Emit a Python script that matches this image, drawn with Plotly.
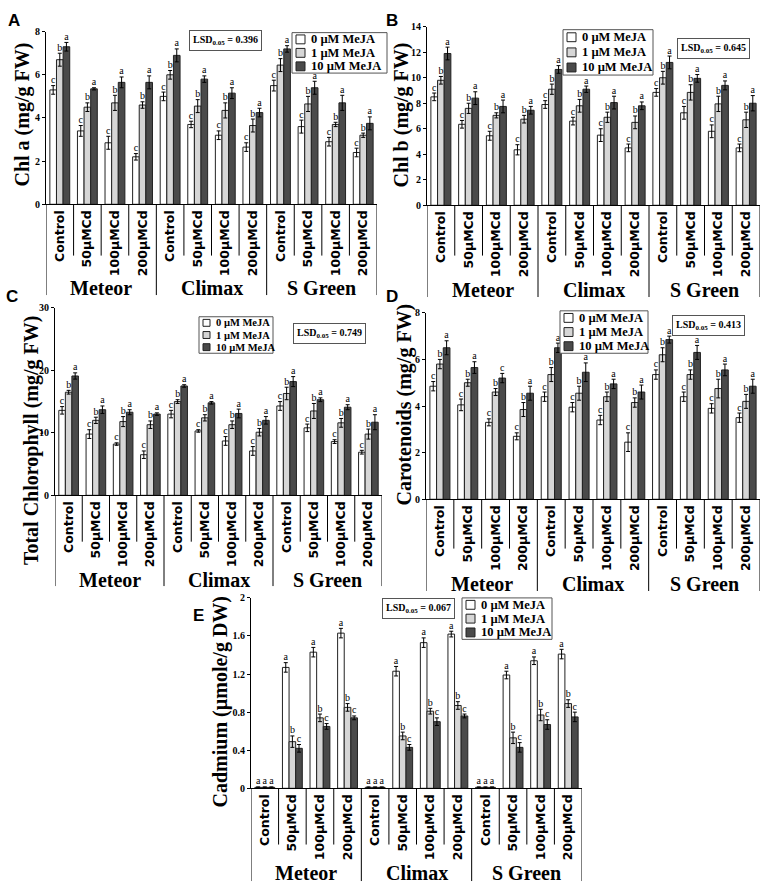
import plotly.graph_objects as go

W, H = 767, 890
SERIF = "Liberation Serif, Times New Roman, serif"
SANS = "Liberation Sans, Arial, sans-serif"
TICKSANS = "DejaVu Sans, Verdana, sans-serif"

GROUPS = ["Meteor", "Climax", "S Green"]
TREATMENTS = ["Control", "50µMCd", "100µMCd", "200µMCd"]
SERIES = ["0 µM MeJA", "1 µM MeJA", "10 µM MeJA"]
CATS = list(range(12))

# ---- Panel A: Chl a (mg/g FW)
chla_0 = [5.3, 3.4, 2.85, 2.2, 5.0, 3.7, 3.2, 2.65, 5.5, 3.6, 2.9, 2.4]
chla_1 = [6.7, 4.5, 4.7, 4.6, 6.0, 4.55, 4.35, 3.65, 6.45, 4.65, 3.7, 3.2]
chla_10 = [7.3, 5.35, 5.65, 5.65, 6.9, 5.8, 5.15, 4.25, 7.2, 5.4, 4.7, 3.75]
chla_err_0 = [0.2, 0.25, 0.3, 0.15, 0.2, 0.15, 0.2, 0.2, 0.25, 0.3, 0.2, 0.2]
chla_err_1 = [0.3, 0.2, 0.35, 0.15, 0.2, 0.3, 0.35, 0.3, 0.3, 0.35, 0.1, 0.1]
chla_err_10 = [0.2, 0.05, 0.25, 0.3, 0.3, 0.15, 0.25, 0.2, 0.15, 0.3, 0.35, 0.3]

# ---- Panel B: Chl b (mg/g FW)
chlb_0 = [8.5, 6.35, 5.45, 4.35, 7.9, 6.6, 5.5, 4.5, 8.85, 7.25, 5.8, 4.5]
chlb_1 = [9.8, 7.6, 7.05, 6.75, 9.1, 7.8, 6.9, 6.5, 10.0, 8.85, 7.95, 6.7]
chlb_10 = [11.9, 8.4, 7.75, 7.45, 10.65, 9.1, 8.05, 7.8, 11.2, 9.95, 9.4, 8.0]
chlb_err_0 = [0.3, 0.3, 0.35, 0.4, 0.3, 0.3, 0.5, 0.3, 0.3, 0.5, 0.5, 0.3]
chlb_err_1 = [0.3, 0.4, 0.2, 0.3, 0.4, 0.5, 0.4, 0.5, 0.5, 0.6, 0.6, 0.6]
chlb_err_10 = [0.5, 0.5, 0.5, 0.3, 0.3, 0.25, 0.5, 0.3, 0.5, 0.3, 0.35, 0.6]

# ---- Panel C: Total Chlorophyll (mg/g FW)
tot_0 = [13.6, 9.8, 8.2, 6.5, 13.0, 10.3, 8.7, 7.1, 14.3, 10.8, 8.6, 6.9]
tot_1 = [16.5, 12.0, 11.8, 11.3, 15.0, 12.4, 11.3, 10.1, 16.3, 13.5, 11.6, 9.8]
tot_10 = [19.1, 13.7, 13.3, 13.0, 17.5, 14.8, 13.1, 12.0, 18.2, 15.3, 14.1, 11.7]
tot_err_0 = [0.6, 0.7, 0.2, 0.6, 0.6, 0.2, 0.7, 0.7, 0.7, 0.6, 0.3, 0.3]
tot_err_1 = [0.3, 0.5, 0.8, 0.6, 0.3, 0.5, 0.6, 0.6, 1.0, 1.2, 0.7, 0.8]
tot_err_10 = [0.5, 0.6, 0.4, 0.2, 0.2, 0.2, 0.7, 0.6, 0.8, 0.3, 0.4, 1.2]

# ---- Panel D: Carotenoids (mg/g FW)
car_0 = [4.85, 4.05, 3.3, 2.7, 4.4, 3.95, 3.4, 2.45, 5.35, 4.4, 3.9, 3.5]
car_1 = [5.8, 5.0, 4.6, 3.85, 5.35, 4.55, 4.4, 4.15, 6.2, 5.35, 4.75, 4.2]
car_10 = [6.5, 5.65, 5.2, 4.55, 6.5, 5.45, 4.95, 4.6, 6.85, 6.3, 5.55, 4.85]
car_err_0 = [0.2, 0.25, 0.15, 0.15, 0.2, 0.2, 0.2, 0.4, 0.2, 0.2, 0.2, 0.2]
car_err_1 = [0.2, 0.15, 0.15, 0.3, 0.3, 0.3, 0.2, 0.2, 0.3, 0.2, 0.4, 0.3]
car_err_10 = [0.3, 0.25, 0.2, 0.3, 0.2, 0.4, 0.2, 0.3, 0.15, 0.3, 0.25, 0.3]

# ---- Panel E: Cadmium (µmole/g DW)
cd_0 = [0.01, 1.27, 1.43, 1.63, 0.01, 1.23, 1.53, 1.62, 0.01, 1.19, 1.34, 1.41]
cd_1 = [0.01, 0.49, 0.74, 0.85, 0.01, 0.55, 0.81, 0.87, 0.01, 0.53, 0.77, 0.89]
cd_10 = [0.01, 0.42, 0.65, 0.74, 0.01, 0.43, 0.70, 0.76, 0.01, 0.43, 0.67, 0.75]
cd_err_0 = [0.005, 0.05, 0.05, 0.05, 0.005, 0.05, 0.05, 0.03, 0.005, 0.04, 0.04, 0.05]
cd_err_1 = [0.005, 0.06, 0.04, 0.04, 0.005, 0.04, 0.03, 0.04, 0.005, 0.06, 0.06, 0.04]
cd_err_10 = [0.005, 0.04, 0.03, 0.02, 0.005, 0.03, 0.04, 0.02, 0.005, 0.05, 0.05, 0.05]

# significance letters
LET_0 = ["c"] * 12
LET_1 = ["b"] * 12
LET_10 = ["a"] * 12
LET_D_10 = ["a", "a", "c", "a", "a", "a", "a", "a", "a", "a", "a", "a"]
LET_E_0 = ["a"] * 12
LET_E_1 = ["a", "b", "b", "b", "a", "b", "b", "b", "a", "b", "b", "b"]
LET_E_10 = ["a", "c", "c", "c", "a", "c", "c", "c", "a", "c", "c", "c"]

LSD_VALUES = ["0.396", "0.645", "0.749", "0.413", "0.067"]

COLORS = ["#ffffff", "#d6d6d6", "#4a4a4a"]
BARGAP = 0.28
BW = (1 - BARGAP) / 3

panels = [
    dict(label="A", title="Chl a (mg/g FW)", vals=[chla_0, chla_1, chla_10],
         errs=[chla_err_0, chla_err_1, chla_err_10], lets=[LET_0, LET_1, LET_10],
         yr=[0, 8], tv=[0, 2, 4, 6, 8], tt=["0", "2", "4", "6", "8"],
         box=(46, 377, 26, 201), sub=52, grp=92, glab=286,
         tpos=(23, 110), lpos=(14, 15),
         leg=(292, 27, 387, 68, 12.5), lsd=(225, 35)),
    dict(label="B", title="Chl b (mg/g FW)", vals=[chlb_0, chlb_1, chlb_10],
         errs=[chlb_err_0, chlb_err_1, chlb_err_10], lets=[LET_0, LET_1, LET_10],
         yr=[0, 14], tv=[0, 2, 4, 6, 8, 10, 12, 14], tt=["0", "2", "4", "6", "8", "10", "12", "14"],
         box=(427, 760, 21, 202), sub=51, grp=93, glab=288,
         tpos=(402, 110), lpos=(392, 15),
         leg=(563, 24, 653, 70, 12.5), lsd=(713, 43)),
    dict(label="C", title="Total Chlorophyll (mg/g FW)", vals=[tot_0, tot_1, tot_10],
         errs=[tot_err_0, tot_err_1, tot_err_10], lets=[LET_0, LET_1, LET_10],
         yr=[0, 30], tv=[0, 10, 20, 30], tt=["0", "10", "20", "30"],
         box=(55, 382, 306, 496), sub=47, grp=92, glab=582,
         tpos=(31, 441), lpos=(12, 294),
         leg=(199, 315, 273, 352, 10.5), lsd=(329, 332)),
    dict(label="D", title="Carotenoids (mg/g FW)", vals=[car_0, car_1, car_10],
         errs=[car_err_0, car_err_1, car_err_10], lets=[LET_0, LET_1, LET_D_10],
         yr=[0, 8], tv=[0, 2, 4, 6, 8], tt=["0", "2", "4", "6", "8"],
         box=(426, 760, 311, 500), sub=50, grp=93, glab=586,
         tpos=(405, 404), lpos=(392, 294),
         leg=(560, 309, 648, 352, 12.5), lsd=(708, 324)),
    dict(label="E", title="Cadmium (µmole/g DW)", vals=[cd_0, cd_1, cd_10],
         errs=[cd_err_0, cd_err_1, cd_err_10], lets=[LET_E_0, LET_E_1, LET_E_10],
         yr=[0, 2], tv=[0, 0.4, 0.8, 1.2, 1.6, 2], tt=["0", "0.4", "0.8", "1.2", "1.6", "2"],
         box=(251, 582, 600, 793), sub=57, grp=94, glab=879,
         tpos=(220, 705), lpos=(198, 618),
         leg=(462, 600, 552, 642, 12.5), lsd=(418, 611)),
]

fig = go.Figure()
shapes = []
annots = []


def px(x):
    return x / W


def py(y):
    return 1 - y / H


for i, p in enumerate(panels):
    n = i + 1
    xa = "x" if n == 1 else f"x{n}"
    ya = "y" if n == 1 else f"y{n}"
    x0, x1, yt, yb = p["box"]
    for s in range(3):
        fig.add_trace(go.Bar(
            x=CATS, y=p["vals"][s], name=SERIES[s], offsetgroup=str(s),
            marker=dict(color=COLORS[s], line=dict(color="#222222", width=1)),
            error_y=dict(type="data", array=p["errs"][s], color="black", thickness=1, width=2),
            xaxis=xa, yaxis=ya, showlegend=False))
        fig.add_trace(go.Scatter(
            x=[c + (s - 1) * BW for c in CATS],
            y=[v + e for v, e in zip(p["vals"][s], p["errs"][s])],
            mode="text", text=p["lets"][s], textposition="top center",
            textfont=dict(family=SERIF, size=10, color="black"),
            cliponaxis=False, showlegend=False, hoverinfo="skip",
            xaxis=xa, yaxis=ya))
    xk = "xaxis" if n == 1 else f"xaxis{n}"
    yk = "yaxis" if n == 1 else f"yaxis{n}"
    fig.layout[xk] = dict(
        domain=[px(x0), px(x1)], anchor=ya, range=[-0.5, 11.5],
        tickvals=CATS, ticktext=TREATMENTS * 3, tickangle=-90,
        tickfont=dict(family=TICKSANS, size=12.5, weight="bold", color="black"),
        showline=True, linecolor="black", linewidth=1, ticks="",
        showgrid=False, zeroline=False, fixedrange=True)
    fig.layout[yk] = dict(
        domain=[py(yb), py(yt)], anchor=xa, range=p["yr"],
        tickvals=p["tv"], ticktext=p["tt"],
        tickfont=dict(family=SERIF, size=10, weight="bold", color="black"),
        showline=True, linecolor="black", linewidth=1, ticks="outside",
        ticklen=3, tickcolor="black", showgrid=False, zeroline=False, fixedrange=True)
    # category separators
    for k in range(13):
        length = p["grp"] if k % 4 == 0 else p["sub"]
        shapes.append(dict(type="line", xref=xa, yref="paper",
                           x0=k - 0.5, x1=k - 0.5, y0=py(yb), y1=py(yb + length),
                           line=dict(color="black", width=1)))
    # group labels
    for g, gname in enumerate(GROUPS):
        annots.append(dict(xref=xa, yref="paper", x=1.5 + 4 * g, y=py(p["glab"]),
                           text=f"<b>{gname}</b>", showarrow=False, yanchor="middle",
                           font=dict(family=SERIF, size=20, color="black")))
    # y title
    annots.append(dict(xref="paper", yref="paper", x=px(p["tpos"][0]), y=py(p["tpos"][1]),
                       text=f"<b>{p['title']}</b>", textangle=-90, showarrow=False,
                       xanchor="center", yanchor="middle",
                       font=dict(family=SERIF, size=20, color="black")))
    # panel letter
    annots.append(dict(xref="paper", yref="paper", x=px(p["lpos"][0]), y=py(p["lpos"][1]),
                       text=f"<b>{p['label']}</b>", showarrow=False, xanchor="center", yanchor="middle",
                       font=dict(family=SANS, size=17, color="black")))
    # LSD box
    annots.append(dict(xref="paper", yref="paper", x=px(p["lsd"][0]), y=py(p["lsd"][1]),
                       text=f"<b>LSD<sub>0.05</sub> = {LSD_VALUES[i]}</b>", showarrow=False,
                       xanchor="center", yanchor="middle", bgcolor="white",
                       bordercolor="#555", borderwidth=1, borderpad=3,
                       font=dict(family=SERIF, size=10, color="black")))
    # legend box
    lx0, ly0, lx1, ly1, fs = p["leg"]
    shapes.append(dict(type="rect", xref="paper", yref="paper",
                       x0=px(lx0), x1=px(lx1), y0=py(ly0), y1=py(ly1),
                       line=dict(color="#555", width=1), fillcolor="white", layer="above"))
    step = (ly1 - ly0) / 3
    sq = 9 if fs > 11 else 7
    for s in range(3):
        cy = ly0 + step * (s + 0.5)
        shapes.append(dict(type="rect", xref="paper", yref="paper",
                           x0=px(lx0 + 4), x1=px(lx0 + 4 + sq),
                           y0=py(cy - sq / 2), y1=py(cy + sq / 2),
                           line=dict(color="#222", width=1), fillcolor=COLORS[s], layer="above"))
        annots.append(dict(xref="paper", yref="paper", x=px(lx0 + 8 + sq), y=py(cy),
                           text=f"<b>{SERIES[s]}</b>", showarrow=False, xanchor="left", yanchor="middle",
                           font=dict(family=SERIF, size=fs, color="black")))

fig.update_layout(
    width=W, height=H, margin=dict(l=0, r=0, t=0, b=0),
    paper_bgcolor="white", plot_bgcolor="white",
    barmode="group", bargap=BARGAP, bargroupgap=0,
    shapes=shapes, annotations=annots, showlegend=False)

fig.write_html("out.html", config={"displayModeBar": False},
               post_script="document.body.style.margin='0';document.body.style.overflow='hidden';")
